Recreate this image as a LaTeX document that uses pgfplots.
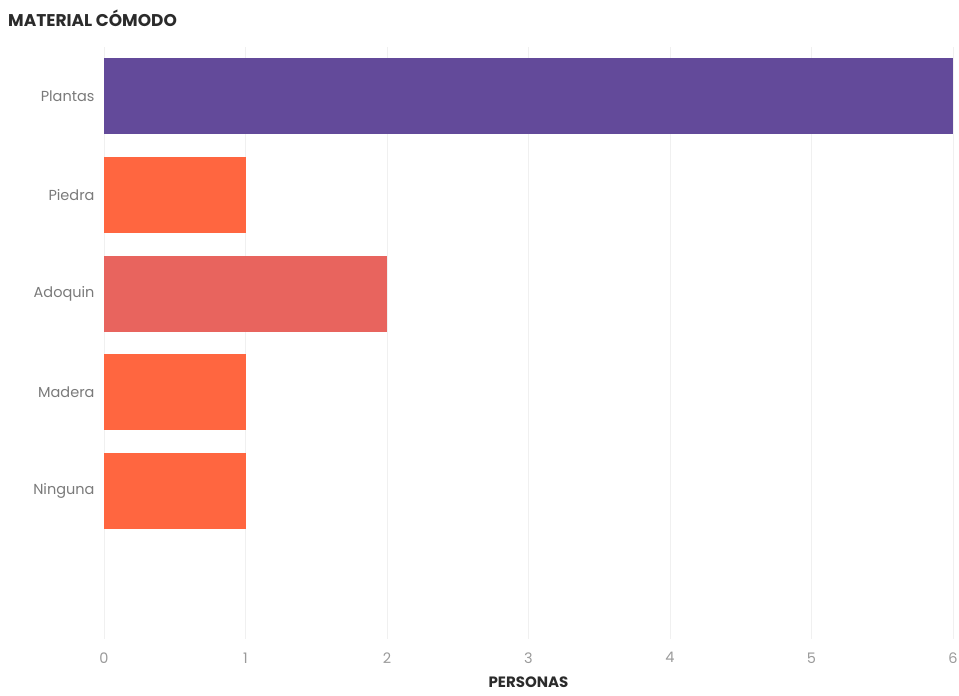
\documentclass[border=0pt]{standalone}
\usepackage{fontspec}
\setmainfont{Poppins}
\usepackage{pgfplots}
\pgfplotsset{compat=1.18}
\definecolor{cpurple}{HTML}{634A9A}
\definecolor{corange}{HTML}{FF6640}
\definecolor{cred}{HTML}{E8645E}
\definecolor{cgrid}{HTML}{F0F0F0}
\definecolor{clabel}{HTML}{7A7A7A}
\definecolor{ctick}{HTML}{9A9A9A}
\definecolor{ctitle}{HTML}{2B2B2B}
\begin{document}
\begin{tikzpicture}[x=1pt,y=1pt]
\useasboundingbox (0,0) rectangle (959,696);
\begin{axis}[
  at={(104pt,57pt)}, anchor=south west,
  scale only axis, width=849pt, height=592pt,
  xbar, bar width=76pt, bar shift=0pt,
  xmin=0, xmax=6, ymin=0.5, ymax=6.5, y dir=reverse,
  xtick={0,1,2,3,4,5,6},
  ytick={1,2,3,4,5},
  yticklabels={Plantas,Piedra,Adoquin,Madera,Ninguna},
  axis line style={draw=none},
  major tick length=0pt,
  xmajorgrids, grid style={cgrid, line width=0.8pt},
  /pgf/number format/assume math mode=true,
  tick label style={font=\fontsize{14.5}{16}\selectfont},
  x tick label style={color=ctick, yshift=-10pt},
  y tick label style={color=clabel, xshift=-6pt},
  xlabel={\bfseries PERSONAS},
  xlabel style={font=\fontsize{15}{17}\selectfont, color=ctitle, yshift=-7pt},
  clip=false,
]
\addplot[fill=cpurple, draw=none] coordinates {(6,1)};
\addplot[fill=corange, draw=none] coordinates {(1,2)};
\addplot[fill=cred, draw=none] coordinates {(2,3)};
\addplot[fill=corange, draw=none] coordinates {(1,4)};
\addplot[fill=corange, draw=none] coordinates {(1,5)};
\end{axis}
\node[anchor=base west, inner sep=0pt, font=\fontsize{17}{20}\selectfont\bfseries, color=ctitle] at (8,669) {MATERIAL CÓMODO};
\end{tikzpicture}
\end{document}
